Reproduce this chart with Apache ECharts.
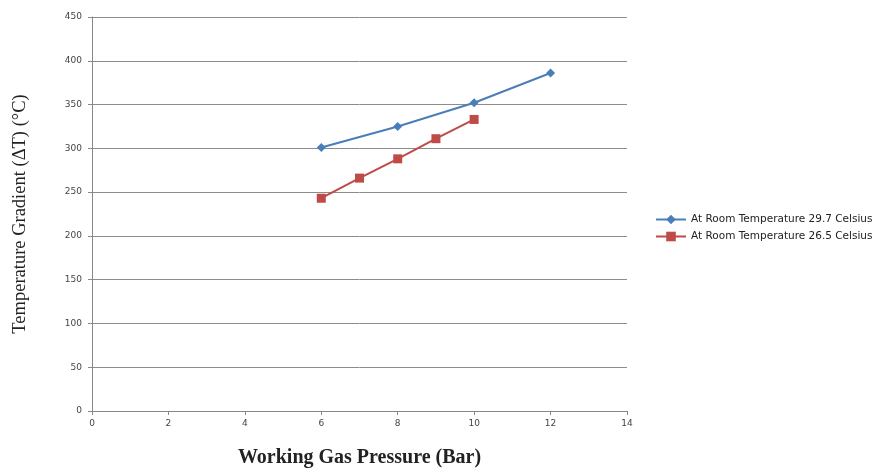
<!DOCTYPE html>
<html><head><meta charset="utf-8">
<script src="https://cdn.jsdelivr.net/npm/echarts@6/dist/echarts.min.js"></script>
<style>html,body{margin:0;padding:0;background:#fff}#c{width:887px;height:468px}</style>
</head><body><div id="c"></div>
<script>
const xTicks = [0, 2, 4, 6, 8, 10, 12, 14];
const yTicks = [0, 50, 100, 150, 200, 250, 300, 350, 400, 450];
const seriesNames = ['At Room Temperature 29.7 Celsius', 'At Room Temperature 26.5 Celsius'];
const pressure1 = [6, 8, 10, 12];
const gradient1 = [301, 325, 352, 386];
const pressure2 = [6, 7, 8, 9, 10];
const gradient2 = [243, 266, 288, 311, 333];

const chart = echarts.init(document.getElementById('c'));
const tickFont = {fontFamily: '"DejaVu Sans", sans-serif', fontSize: 9, color: '#444'};
chart.setOption({
  animation: false,
  grid: {left: 92, right: 260, top: 17, bottom: 57, containLabel: false, outerBoundsMode: 'none'},
  xAxis: {
    type: 'value', min: 0, max: 14, interval: 2,
    name: 'Working Gas Pressure (Bar)', nameLocation: 'middle', nameGap: 37,
    nameTextStyle: {fontFamily: '"Liberation Serif", serif', fontWeight: 'bold', fontSize: 20, color: '#222'},
    axisLine: {lineStyle: {color: '#888'}},
    axisTick: {show: true, length: 4, lineStyle: {color: '#888'}},
    axisLabel: Object.assign({margin: 8}, tickFont),
    splitLine: {show: false}
  },
  yAxis: {
    type: 'value', min: 0, max: 450, interval: 50,
    name: 'Temperature Gradient (ΔT) (°C)', nameLocation: 'middle', nameGap: 62,
    nameTextStyle: {fontFamily: '"Liberation Serif", serif', fontSize: 18.5, color: '#222'},
    axisLine: {show: true, lineStyle: {color: '#888'}},
    axisTick: {show: true, length: 4, lineStyle: {color: '#888'}},
    axisLabel: Object.assign({margin: 10}, tickFont),
    splitLine: {show: true, lineStyle: {color: '#8c8c8c', width: 1}}
  },
  legend: {
    orient: 'vertical', left: 650, top: 209, itemGap: 6,
    itemWidth: 30, itemHeight: 12,
    textStyle: {fontFamily: '"DejaVu Sans", sans-serif', fontSize: 10.5, color: '#222'},
    data: seriesNames
  },
  series: [
    {name: seriesNames[0], type: 'line', data: pressure1.map((x, i) => [x, gradient1[i]]),
     symbol: 'diamond', symbolSize: 9, itemStyle: {color: '#4a7ebb'}, lineStyle: {color: '#4a7ebb', width: 2}},
    {name: seriesNames[1], type: 'line', data: pressure2.map((x, i) => [x, gradient2[i]]),
     symbol: 'rect', symbolSize: 9, itemStyle: {color: '#be4b48'}, lineStyle: {color: '#be4b48', width: 2}}
  ]
});
</script></body></html>
